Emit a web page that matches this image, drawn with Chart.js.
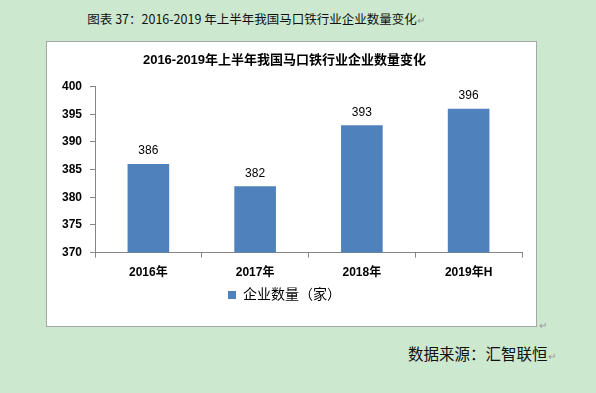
<!DOCTYPE html>
<html>
<head>
<meta charset="utf-8">
<script src="https://cdn.jsdelivr.net/npm/chart.js@4.4.1/dist/chart.umd.min.js"></script>
<style>
    body { margin: 0; width: 596px; height: 393px; background: #cce8cf; position: relative; overflow: hidden;
           font-family: "Noto Sans CJK SC", "Liberation Sans", sans-serif; }
    .caption { position: absolute; top: 9px; left: 0; width: 512px; text-align: center; font-size: 12.5px; color: #111; }
    .box { position: absolute; left: 46px; top: 41px; width: 489px; height: 284px; background: #fff; border: 1px solid #a6a6a6; }
    .source { position: absolute; left: 408px; top: 342px; font-size: 15.5px; color: #111; }
    .ret { color: #999; font-size: 10px; }
    .ret2 { position: absolute; left: 539px; top: 317px; color: #999; font-size: 10px; }
</style>
</head>
<body>
<div class="caption">图表 37：2016-2019 年上半年我国马口铁行业企业数量变化<span class="ret">↵</span></div>
<div class="box"><canvas id="chart" width="489" height="284"></canvas></div>
<div class="ret2">↵</div>
<div class="source">数据来源：汇智联恒<span class="ret">↵</span></div>
<script>
const chartTitle = '2016-2019年上半年我国马口铁行业企业数量变化';
const years = ['2016年', '2017年', '2018年', '2019年H'];
const companies = [386, 382, 393, 396];
const seriesName = '企业数量（家）';
const yTicks = { min: 370, max: 400, step: 5 };

const fontFamily = '"Liberation Sans", "Noto Sans CJK SC", sans-serif';

// values above each bar
const valueLabels = {
    id: 'valueLabels',
    afterDatasetsDraw(chart) {
        const ctx = chart.ctx;
        ctx.save();
        ctx.font = '12px ' + fontFamily;
        ctx.fillStyle = '#000';
        ctx.textAlign = 'center';
        ctx.textBaseline = 'bottom';
        chart.getDatasetMeta(0).data.forEach(function (bar, i) {
            ctx.fillText(companies[i], bar.x, bar.y - 7);
        });
        ctx.restore();
    }
};

document.addEventListener("DOMContentLoaded", function () {
    let canvas = document.getElementById('chart').getContext('2d');
    new Chart(canvas, {
        type: 'bar',
        data: {
            labels: years,
            datasets: [{
                label: seriesName,
                data: companies,
                backgroundColor: '#4f81bd',
                categoryPercentage: 1,
                barPercentage: 0.39
            }]
        },
        options: {
            responsive: false,
            animation: false,
            layout: { padding: { left: 0, right: 14, top: 0, bottom: 14 } },
            plugins: {
                title: {
                    display: true,
                    text: chartTitle,
                    color: '#000',
                    font: { size: 13, weight: 'bold', family: fontFamily },
                    padding: { top: 11, bottom: 18 }
                },
                legend: {
                    position: 'bottom',
                    labels: {
                        boxWidth: 8,
                        boxHeight: 8,
                        color: '#000',
                        font: { size: 14, family: fontFamily },
                        padding: 4
                    }
                },
                tooltip: { enabled: false }
            },
            scales: {
                y: {
                    min: yTicks.min,
                    max: yTicks.max,
                    ticks: { stepSize: yTicks.step, color: '#000', padding: 8,
                             font: { size: 12, weight: 'bold', family: fontFamily } },
                    grid: { drawOnChartArea: false, tickLength: 5, color: '#868686' },
                    border: { color: '#868686' },
                    afterFit: function (scale) { scale.width = 48; }
                },
                x: {
                    ticks: { color: '#000', padding: 8,
                             font: { size: 12, weight: 'bold', family: fontFamily } },
                    grid: { drawOnChartArea: false, tickLength: 5, color: '#868686', offset: true },
                    border: { color: '#868686' },
                    afterFit: function (scale) { scale.height -= 4; }
                }
            }
        },
        plugins: [valueLabels]
    });
});
</script>
</body>
</html>
